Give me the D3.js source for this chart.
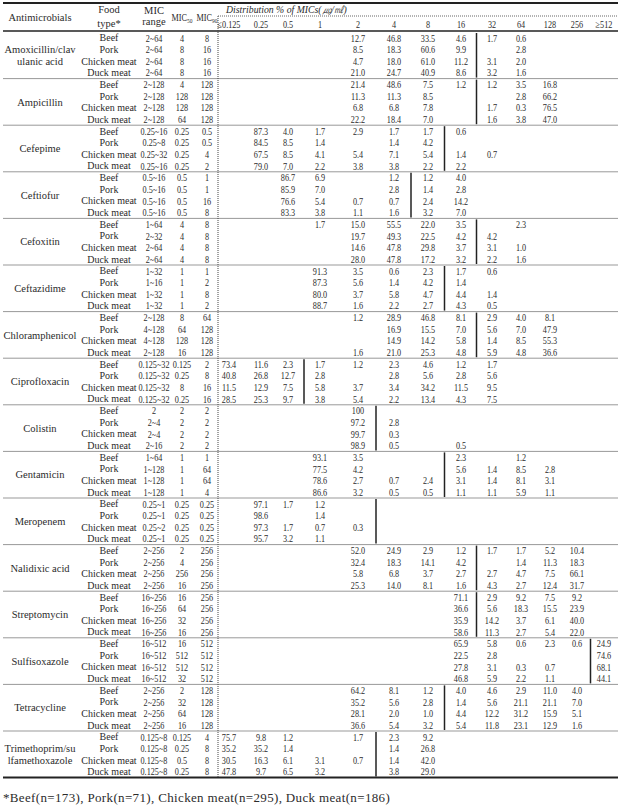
<!DOCTYPE html>
<html>
<head>
<meta charset="utf-8">
<script src="https://cdnjs.cloudflare.com/ajax/libs/d3/7.8.5/d3.min.js"></script>
<style>
  body { margin: 0; background: #fff; }
  svg text { font-family: "Liberation Serif", "DejaVu Serif", serif; fill: #2b2b2b; }
</style>
</head>
<body>
<svg id="chart" width="618" height="807"></svg>
<script>
var _ = null;

var drugLines = [
  ['Amoxicillin/clav', 'ulanic acid'], ['Ampicillin'], ['Cefepime'], ['Ceftiofur'],
  ['Cefoxitin'], ['Ceftazidime'], ['Chloramphenicol'], ['Ciprofloxacin'],
  ['Colistin'], ['Gentamicin'], ['Meropenem'], ['Nalidixic acid'],
  ['Streptomycin'], ['Sulfisoxazole'], ['Tetracycline'], ['Trimethoprim/su', 'lfamethoxazole']
];
var foods = ['Beef', 'Pork', 'Chicken meat', 'Duck meat'];
var micCols = ['≤0.125', '0.25', '0.5', '1', '2', '4', '8', '16', '32', '64', '128', '256', '≥512'];

var micRange = [
  ['2~64', '2~64', '2~64', '2~64'],
  ['2~128', '2~128', '2~128', '2~128'],
  ['0.25~16', '0.25~8', '0.25~32', '0.25~16'],
  ['0.5~16', '0.5~16', '0.5~16', '0.5~16'],
  ['1~64', '2~32', '2~64', '2~64'],
  ['1~32', '1~16', '1~32', '1~32'],
  ['2~128', '4~128', '4~128', '2~128'],
  ['0.125~32', '0.125~32', '0.125~32', '0.125~32'],
  ['2', '2~4', '2~4', '2~16'],
  ['1~64', '1~128', '1~128', '1~128'],
  ['0.25~1', '0.25~1', '0.25~2', '0.25~1'],
  ['2~256', '2~256', '2~256', '2~256'],
  ['16~256', '16~256', '16~256', '16~256'],
  ['16~512', '16~512', '16~512', '16~512'],
  ['2~256', '2~256', '2~256', '2~256'],
  ['0.125~8', '0.125~8', '0.125~8', '0.125~8']
];
var mic50 = [
  ['4', '8', '8', '8'], ['4', '128', '128', '64'], ['0.25', '0.25', '0.25', '0.25'],
  ['0.5', '0.5', '0.5', '0.5'], ['4', '4', '4', '4'], ['1', '1', '1', '1'],
  ['8', '64', '128', '16'], ['0.125', '0.25', '8', '0.25'], ['2', '2', '2', '2'],
  ['1', '1', '1', '1'], ['0.25', '0.25', '0.25', '0.25'], ['2', '4', '256', '16'],
  ['16', '64', '32', '16'], ['16', '512', '512', '32'], ['2', '32', '64', '16'],
  ['0.125', '0.25', '0.5', '0.25']
];
var mic90 = [
  ['8', '16', '16', '16'], ['128', '128', '128', '128'], ['0.5', '0.5', '4', '2'],
  ['1', '1', '16', '8'], ['8', '8', '8', '8'], ['1', '2', '8', '2'],
  ['64', '128', '128', '128'], ['2', '8', '16', '16'], ['2', '2', '2', '2'],
  ['1', '64', '64', '4'], ['0.25', '0.25', '0.25', '0.25'], ['256', '256', '256', '256'],
  ['256', '256', '256', '256'], ['512', '512', '512', '512'], ['128', '128', '128', '128'],
  ['4', '8', '8', '8']
];
// first MIC column counted as resistant (solid line drawn before it)
var breakpoint = ['32', '32', '16', '8', '32', '16', '32', '1', '4', '16', '4', '32', '32', '≥512', '16', '4'];

// % of isolates per MIC column: <=0.125 .. >=512
var dist = [
  [[_, _, _, _, 12.7, 46.8, 33.5, 4.6, 1.7, 0.6, _, _, _],
   [_, _, _, _, 8.5, 18.3, 60.6, 9.9, _, 2.8, _, _, _],
   [_, _, _, _, 4.7, 18.0, 61.0, 11.2, 3.1, 2.0, _, _, _],
   [_, _, _, _, 21.0, 24.7, 40.9, 8.6, 3.2, 1.6, _, _, _]],
  [[_, _, _, _, 21.4, 48.6, 7.5, 1.2, 1.2, 3.5, 16.8, _, _],
   [_, _, _, _, 11.3, 11.3, 8.5, _, _, 2.8, 66.2, _, _],
   [_, _, _, _, 6.8, 6.8, 7.8, _, 1.7, 0.3, 76.5, _, _],
   [_, _, _, _, 22.2, 18.4, 7.0, _, 1.6, 3.8, 47.0, _, _]],
  [[_, 87.3, 4.0, 1.7, 2.9, 1.7, 1.7, 0.6, _, _, _, _, _],
   [_, 84.5, 8.5, 1.4, _, 1.4, 4.2, _, _, _, _, _, _],
   [_, 67.5, 8.5, 4.1, 5.4, 7.1, 5.4, 1.4, 0.7, _, _, _, _],
   [_, 79.0, 7.0, 2.2, 3.8, 3.8, 2.2, 2.2, _, _, _, _, _]],
  [[_, _, 86.7, 6.9, _, 1.2, 1.2, 4.0, _, _, _, _, _],
   [_, _, 85.9, 7.0, _, 2.8, 1.4, 2.8, _, _, _, _, _],
   [_, _, 76.6, 5.4, 0.7, 0.7, 2.4, 14.2, _, _, _, _, _],
   [_, _, 83.3, 3.8, 1.1, 1.6, 3.2, 7.0, _, _, _, _, _]],
  [[_, _, _, 1.7, 15.0, 55.5, 22.0, 3.5, _, 2.3, _, _, _],
   [_, _, _, _, 19.7, 49.3, 22.5, 4.2, 4.2, _, _, _, _],
   [_, _, _, _, 14.6, 47.8, 29.8, 3.7, 3.1, 1.0, _, _, _],
   [_, _, _, _, 28.0, 47.8, 17.2, 3.2, 2.2, 1.6, _, _, _]],
  [[_, _, _, 91.3, 3.5, 0.6, 2.3, 1.7, 0.6, _, _, _, _],
   [_, _, _, 87.3, 5.6, 1.4, 4.2, 1.4, _, _, _, _, _],
   [_, _, _, 80.0, 3.7, 5.8, 4.7, 4.4, 1.4, _, _, _, _],
   [_, _, _, 88.7, 1.6, 2.2, 2.7, 4.3, 0.5, _, _, _, _]],
  [[_, _, _, _, 1.2, 28.9, 46.8, 8.1, 2.9, 4.0, 8.1, _, _],
   [_, _, _, _, _, 16.9, 15.5, 7.0, 5.6, 7.0, 47.9, _, _],
   [_, _, _, _, _, 14.9, 14.2, 5.8, 1.4, 8.5, 55.3, _, _],
   [_, _, _, _, 1.6, 21.0, 25.3, 4.8, 5.9, 4.8, 36.6, _, _]],
  [[73.4, 11.6, 2.3, 1.7, 1.2, 2.3, 4.6, 1.2, 1.7, _, _, _, _],
   [40.8, 26.8, 12.7, 2.8, _, 2.8, 5.6, 2.8, 5.6, _, _, _, _],
   [11.5, 12.9, 7.5, 5.8, 3.7, 3.4, 34.2, 11.5, 9.5, _, _, _, _],
   [28.5, 25.3, 9.7, 3.8, 5.4, 2.2, 13.4, 4.3, 7.5, _, _, _, _]],
  [[_, _, _, _, 100, _, _, _, _, _, _, _, _],
   [_, _, _, _, 97.2, 2.8, _, _, _, _, _, _, _],
   [_, _, _, _, 99.7, 0.3, _, _, _, _, _, _, _],
   [_, _, _, _, 98.9, 0.5, _, 0.5, _, _, _, _, _]],
  [[_, _, _, 93.1, 3.5, _, _, 2.3, _, 1.2, _, _, _],
   [_, _, _, 77.5, 4.2, _, _, 5.6, 1.4, 8.5, 2.8, _, _],
   [_, _, _, 78.6, 2.7, 0.7, 2.4, 3.1, 1.4, 8.1, 3.1, _, _],
   [_, _, _, 86.6, 3.2, 0.5, 0.5, 1.1, 1.1, 5.9, 1.1, _, _]],
  [[_, 97.1, 1.7, 1.2, _, _, _, _, _, _, _, _, _],
   [_, 98.6, _, 1.4, _, _, _, _, _, _, _, _, _],
   [_, 97.3, 1.7, 0.7, 0.3, _, _, _, _, _, _, _, _],
   [_, 95.7, 3.2, 1.1, _, _, _, _, _, _, _, _, _]],
  [[_, _, _, _, 52.0, 24.9, 2.9, 1.2, 1.7, 1.7, 5.2, 10.4, _],
   [_, _, _, _, 32.4, 18.3, 14.1, 4.2, _, 1.4, 11.3, 18.3, _],
   [_, _, _, _, 5.8, 6.8, 3.7, 2.7, 2.7, 4.7, 7.5, 66.1, _],
   [_, _, _, _, 25.3, 14.0, 8.1, 1.6, 4.3, 2.7, 12.4, 31.7, _]],
  [[_, _, _, _, _, _, _, 71.1, 2.9, 9.2, 7.5, 9.2, _],
   [_, _, _, _, _, _, _, 36.6, 5.6, 18.3, 15.5, 23.9, _],
   [_, _, _, _, _, _, _, 35.9, 14.2, 3.7, 6.1, 40.0, _],
   [_, _, _, _, _, _, _, 58.6, 11.3, 2.7, 5.4, 22.0, _]],
  [[_, _, _, _, _, _, _, 65.9, 5.8, 0.6, 2.3, 0.6, 24.9],
   [_, _, _, _, _, _, _, 22.5, 2.8, _, _, _, 74.6],
   [_, _, _, _, _, _, _, 27.8, 3.1, 0.3, 0.7, _, 68.1],
   [_, _, _, _, _, _, _, 46.8, 5.9, 2.2, 1.1, _, 44.1]],
  [[_, _, _, _, 64.2, 8.1, 1.2, 4.0, 4.6, 2.9, 11.0, 4.0, _],
   [_, _, _, _, 35.2, 5.6, 2.8, 1.4, 5.6, 21.1, 21.1, 7.0, _],
   [_, _, _, _, 28.1, 2.0, 1.0, 4.4, 12.2, 31.2, 15.9, 5.1, _],
   [_, _, _, _, 36.6, 5.4, 3.2, 5.4, 11.8, 23.1, 12.9, 1.6, _]],
  [[75.7, 9.8, 1.2, _, 1.7, 2.3, 9.2, _, _, _, _, _, _],
   [35.2, 35.2, 1.4, _, _, 1.4, 26.8, _, _, _, _, _, _],
   [30.5, 16.3, 6.1, 3.1, 0.7, 1.4, 42.0, _, _, _, _, _, _],
   [47.8, 9.7, 6.5, 3.2, _, 3.8, 29.0, _, _, _, _, _, _]]
];

var footnote = '*Beef(n=173), Pork(n=71), Chicken meat(n=295), Duck meat(n=186)';

var svg, x, y, left, right, fs, sx, nRows, fmt, cells, g, f, k;

svg = d3.select('#chart');
left = 3;
right = 618;
fs = 10.5;
sx = 0.78;
nRows = drugLines.length * foods.length;
fmt = function(v) { return v === 100 ? '100' : d3.format('.1f')(v); };

x = d3.scaleLinear().domain(d3.range(micCols.length))
  .range([229, 261, 288, 320, 358, 394, 428, 461, 492, 521, 550, 577, 604]);
y = d3.scaleLinear().domain([0, nRows]).range([32, 777.6]);

var colX = { drug: 40, food: 109, range: 154, m50: 182, m90: 207, split: 218 };

// rules
svg.append('line').attr('x1', left).attr('x2', right).attr('y1', 3).attr('y2', 3)
  .attr('stroke', '#222').attr('stroke-width', 2);
svg.append('line').attr('x1', left).attr('x2', right).attr('y1', y(0) - 1).attr('y2', y(0) - 1)
  .attr('stroke', '#222').attr('stroke-width', 1.5);
svg.append('line').attr('x1', left).attr('x2', right).attr('y1', y(nRows)).attr('y2', y(nRows))
  .attr('stroke', '#222').attr('stroke-width', 2);
svg.selectAll('.sep').data(d3.range(1, drugLines.length)).enter().append('line')
  .attr('class', 'sep')
  .attr('x1', left).attr('x2', right)
  .attr('y1', function(d) { return y(d * 4); }).attr('y2', function(d) { return y(d * 4); })
  .attr('stroke', '#999').attr('stroke-width', 1);
svg.append('line').attr('x1', colX.split).attr('x2', colX.split).attr('y1', 16).attr('y2', y(nRows))
  .attr('stroke', '#444').attr('stroke-width', 1).attr('stroke-dasharray', '1,1');
svg.append('line').attr('x1', colX.split).attr('x2', right).attr('y1', 16).attr('y2', 16)
  .attr('stroke', '#666').attr('stroke-width', 1).attr('stroke-dasharray', '1,1');

// plain text and narrowed numeric text
function ptext(tx, ty, s, size) {
  return svg.append('text').attr('x', tx).attr('y', ty).attr('dy', '0.35em')
    .attr('text-anchor', 'middle').attr('font-size', size || fs).text(s);
}
function ntext(tx, ty, s) {
  return svg.append('text').attr('transform', 'translate(' + tx + ',' + ty + ') scale(' + sx + ',1)')
    .attr('dy', '0.35em').attr('text-anchor', 'middle').attr('font-size', fs).text(s);
}

// header
ptext(colX.drug, 17, 'Antimicrobials');
ptext(colX.food, 9, 'Food');
ptext(colX.food, 23, 'type*');
ptext(colX.range, 10, 'MIC');
ptext(colX.range, 21, 'range');
ntext(colX.m50, 17, 'MIC').append('tspan').attr('font-size', 7).attr('dy', 2).text('50');
ntext(colX.m90, 17, 'MIC').append('tspan').attr('font-size', 7).attr('dy', 2).text('90');
svg.append('text').attr('transform', 'translate(226,9) scale(0.93,1)').attr('dy', '0.35em')
  .attr('font-size', fs).attr('font-style', 'italic').text('Distribution % of MICs(㎍/㎖)');
micCols.forEach(function(d, i) { ntext(x(i), 24, d); });

// drug names
svg.selectAll('.drug').data(drugLines).enter().append('text')
  .attr('class', 'drug').attr('text-anchor', 'middle').attr('font-size', fs)
  .each(function(d, i) {
    var el = d3.select(this), mid = (y(i * 4) + y(i * 4 + 4)) / 2;
    d.forEach(function(s, j) {
      el.append('tspan').attr('x', colX.drug)
        .attr('y', mid + (j - (d.length - 1) / 2) * (y(1) - y(0)))
        .attr('dy', '0.35em').text(s);
    });
  });

// row labels and values
cells = [];
for (g = 0; g < drugLines.length; g++) {
  for (f = 0; f < foods.length; f++) {
    ptext(colX.food, y(g * 4 + f + 0.5), foods[f], 10);
    cells.push({ r: g * 4 + f, cx: colX.range, s: micRange[g][f] });
    cells.push({ r: g * 4 + f, cx: colX.m50, s: mic50[g][f] });
    cells.push({ r: g * 4 + f, cx: colX.m90, s: mic90[g][f] });
    for (k = 0; k < micCols.length; k++) {
      if (dist[g][f][k] !== null) {
        cells.push({ r: g * 4 + f, cx: x(k), s: fmt(dist[g][f][k]) });
      }
    }
  }
}
svg.selectAll('.cell').data(cells).enter().append('text')
  .attr('class', 'cell')
  .attr('transform', function(d) { return 'translate(' + d.cx + ',' + y(d.r + 0.5) + ') scale(' + sx + ',1)'; })
  .attr('dy', '0.35em').attr('text-anchor', 'middle').attr('font-size', fs)
  .text(function(d) { return d.s; });

// resistance breakpoints
svg.selectAll('.bp').data(breakpoint).enter().append('line')
  .attr('class', 'bp')
  .attr('x1', function(d) { return x(micCols.indexOf(d) - 0.5); })
  .attr('x2', function(d) { return x(micCols.indexOf(d) - 0.5); })
  .attr('y1', function(d, i) { return y(i * 4) + 1; })
  .attr('y2', function(d, i) { return y(i * 4 + 4) - 1; })
  .attr('stroke', '#222').attr('stroke-width', 1.5);

svg.append('text').attr('x', left).attr('y', 797).attr('dy', '0.35em')
  .attr('font-size', 13).attr('letter-spacing', 0.35).text(footnote);
</script>
</body>
</html>
